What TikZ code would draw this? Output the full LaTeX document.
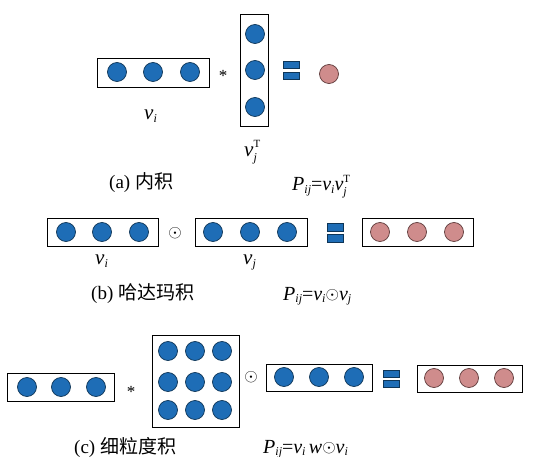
\documentclass[tikz,border=0pt]{standalone}
\usepackage{fontspec}
\setmainfont{Liberation Serif}
\newfontfamily\cjk{Noto Sans CJK SC}
\definecolor{cblue}{HTML}{1E6DB6}
\definecolor{cblueline}{HTML}{0E3557}
\definecolor{cpink}{HTML}{CF8C8C}
\definecolor{cpinkline}{HTML}{5E3A3A}
\newcommand\itv[1]{\textit{#1}}
\newcommand\sub[1]{\raisebox{-0.3ex}{\fontsize{12}{12}\selectfont\textit{#1}}}
\newcommand\subsup[2]{\makebox[0pt][l]{\raisebox{-0.45ex}{\fontsize{12}{12}\selectfont\textit{#1}}}\raisebox{0.95ex}{\fontsize{11}{11}\selectfont #2}}
\newcommand\hdot{\raisebox{0.1ex}{\fontsize{17}{17}\selectfont$\odot$}}
\begin{document}
\begin{tikzpicture}[x=1pt,y=-1pt,
  vecbox/.style={draw=black,line width=0.9pt,fill=white,inner sep=0pt},
  bc/.style={circle,draw=cblueline,line width=0.7pt,fill=cblue,minimum size=19pt,inner sep=0pt},
  pc/.style={circle,draw=cpinkline,line width=0.7pt,fill=cpink,minimum size=19pt,inner sep=0pt},
  eqbar/.style={draw=cblueline,line width=0.7pt,fill=cblue,inner sep=0pt,minimum width=16pt,minimum height=7pt},
  lbl/.style={inner sep=0pt,anchor=base west,font=\fontsize{21}{21}\selectfont},
  captxt/.style={inner sep=0pt,anchor=base west,font=\fontsize{19}{19}\selectfont},
  formula/.style={inner sep=0pt,anchor=base west,font=\fontsize{20}{20}\selectfont},
  op/.style={inner sep=0pt,font=\fontsize{17}{17}\selectfont}]
\useasboundingbox (0,0) rectangle (549,457);

% (a) inner product
\node[vecbox,minimum width=112pt,minimum height=29pt] (a1) at (153,72.5) {};
\foreach \x [count=\i] in {117,153,190} \node[bc] (a1c\i) at (\x,72) {};
\node[op] (aop) at (223,76) {*};
\node[vecbox,minimum width=28pt,minimum height=112pt] (a2) at (254,70) {};
\foreach \y [count=\i] in {34,70,107} \node[bc] (a2c\i) at (255,\y) {};
\node[eqbar] (aeq1) at (291.5,64.5) {};
\node[eqbar] (aeq2) at (291.5,75.5) {};
\node[pc] (ares) at (329,74) {};
\node[lbl] (alv) at (144,120) {\itv{v}\sub{i}};
\node[lbl] (alvt) at (244,157) {\itv{v}\subsup{j}{T}};
\node[captxt] (acap) at (109,189) {(a) {\cjk 内积}};
\node[formula] (aform) at (292,191) {\itv{P}\sub{ij}=\itv{v}\sub{i}\itv{v}\subsup{j}{T}};

% (b) Hadamard product
\node[vecbox,minimum width=111pt,minimum height=28pt] (b1) at (102.5,232) {};
\foreach \x [count=\i] in {66,102,139} \node[bc] (b1c\i) at (\x,232) {};
\node[op] (bop) at (175,233) {$\odot$};
\node[vecbox,minimum width=112pt,minimum height=28pt] (b2) at (251,232) {};
\foreach \x [count=\i] in {213,250,287} \node[bc] (b2c\i) at (\x,232) {};
\node[eqbar,minimum height=8pt] (beq1) at (335,227) {};
\node[eqbar,minimum height=8pt] (beq2) at (335,238) {};
\node[vecbox,minimum width=111pt,minimum height=28pt] (b3) at (417.5,232) {};
\foreach \x [count=\i] in {380,417,454} \node[pc] (b3c\i) at (\x,232) {};
\node[lbl] (blv1) at (95,265) {\itv{v}\sub{i}};
\node[lbl] (blv2) at (243,265) {\itv{v}\sub{j}};
\node[captxt] (bcap) at (91,299) {(b) {\cjk 哈达玛积}};
\node[formula] (bform) at (283,300) {\itv{P}\sub{ij}=\itv{v}\sub{i}\hdot\itv{v}\sub{j}};

% (c) fine-grained product
\node[vecbox,minimum width=107pt,minimum height=28pt] (c1) at (60.5,387) {};
\foreach \x [count=\i] in {27,61,96} \node[bc] (c1c\i) at (\x,387) {};
\node[op] (cop1) at (131,392) {*};
\node[vecbox,minimum width=87pt,minimum height=92pt] (cw) at (195.5,381) {};
\foreach \y [count=\j] in {351,382,410}
  \foreach \x [count=\i] in {168,195,222} \node[bc] (cw\j\i) at (\x,\y) {};
\node[op] (cop2) at (251,377) {$\odot$};
\node[vecbox,minimum width=106pt,minimum height=27pt] (c2) at (319,377.5) {};
\foreach \x [count=\i] in {284,319,354} \node[bc] (c2c\i) at (\x,377) {};
\node[eqbar] (ceq1) at (391,373.5) {};
\node[eqbar] (ceq2) at (391,383.5) {};
\node[vecbox,minimum width=105pt,minimum height=27pt] (c3) at (469.5,378.5) {};
\foreach \x [count=\i] in {434,469,504} \node[pc] (c3c\i) at (\x,378) {};
\node[captxt] (ccap) at (74,453) {(c) {\cjk 细粒度积}};
\node[formula] (cform) at (263,453) {\itv{P}\sub{ij}=\itv{v}\sub{i}\,\itv{w}\hdot\itv{v}\sub{i}};
\end{tikzpicture}
\end{document}
